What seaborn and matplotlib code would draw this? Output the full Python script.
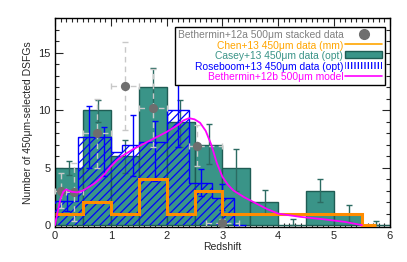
import numpy as np
import matplotlib
matplotlib.use("Agg")
import matplotlib.pyplot as plt
import seaborn as sns
from matplotlib.patches import Patch
from matplotlib.lines import Line2D
from matplotlib.ticker import MultipleLocator

# Casey+13 450um (opt) histogram
casey_edges = [0, 0.5, 1.0, 1.5, 2.0, 2.5, 3.0, 3.5, 4.0, 4.5, 5.0, 5.5, 6.0]
casey_counts = [5, 10, 6, 12, 9, 7, 5, 2, 0, 3, 1, 0]
casey_err_x = [0.25, 0.78, 1.25, 1.75, 2.24, 2.76, 3.25, 3.76, 4.26, 4.75, 5.26, 5.75]
casey_err_lo = [4.4, 9.0, 4.5, 10.3, 6.8, 5.3, 3.0, 0.95, 0.0, 2.0, 0.3, 0.0]
casey_err_hi = [5.6, 10.9, 7.4, 13.7, 10.85, 8.75, 6.6, 3.06, 0.5, 4.0, 1.73, 0.4]

# Roseboom+13 450um (opt) histogram
rose_edges = [0, 0.42, 1.0, 1.2, 1.5, 2.0, 2.41, 2.81, 3.21, 3.42]
rose_counts = [2.1, 7.7, 6.4, 7.0, 7.2, 10.0, 3.7, 2.4, 0]
rose_err_x = [0.21, 0.61, 0.87, 1.40, 1.80, 2.21, 2.61, 3.0]
rose_err_lo = [1.2, 5.0, 4.25, 4.3, 3.8, 6.8, 2.5, 1.3]
rose_err_hi = [2.8, 10.35, 8.5, 9.57, 9.05, 12.9, 4.9, 3.55]

# Chen+13 450um (mm) histogram
chen_edges = [0, 0.5, 1.0, 1.5, 2.0, 2.5, 3.0, 3.5, 4.0, 4.5, 5.0, 5.5, 5.75]
chen_counts = [1, 2, 1, 4, 1, 3, 1, 1, 1, 1, 1, 0]

# Bethermin+12a 500um stacked data
bet_z = [0.1, 0.35, 0.75, 1.25, 1.75, 2.55, 3.0]
bet_n = [3.0, 2.9, 8.0, 12.1, 10.2, 6.9, 0.2]
bet_zerr_lo = [0.1, 0.15, 0.25, 0.25, 0.25, 0.15, 0.3]
bet_zerr_hi = [0.1, 0.15, 0.25, 0.25, 0.25, 0.45, 0.3]
bet_nerr = [1.5, 2.5, 3.0, 3.8, 3.4, 1.8, 0.3]

# Bethermin+12b 500um model
model_z = [0, 0.05, 0.1, 0.15, 0.2, 0.3, 0.4, 0.5, 0.6, 0.7, 0.8, 0.9, 1.0, 1.1,
           1.2, 1.4, 1.6, 1.8, 2.0, 2.2, 2.3, 2.4, 2.5, 2.6, 2.7, 2.8, 2.9, 3.0,
           3.1, 3.2, 3.4, 3.6, 3.8, 4.0, 4.4, 4.8, 5.2, 5.5]
model_n = [0, 1.2, 2.3, 2.9, 3.1, 2.9, 2.85, 3.0, 3.3, 3.6, 4.0, 4.5, 5.1, 5.6,
           6.0, 6.6, 7.1, 7.6, 8.1, 8.7, 9.1, 9.3, 9.2, 8.9, 8.2, 7.0, 5.4, 4.2,
           3.5, 3.0, 2.4, 1.9, 1.4, 1.0, 0.72, 0.52, 0.28, 0.0]

teal = "#3a9488"
teal_dark = "#1f5c54"

sns.set_style("ticks")
plt.rcParams["font.family"] = ["Liberation Sans", "DejaVu Sans"]
plt.rcParams["hatch.linewidth"] = 0.9

fig = plt.figure(figsize=(4.07, 2.62), dpi=100)
ax = fig.add_axes([0.135, 0.134, 0.823, 0.797])

# Casey bars
casey_mid = [(a + b) / 2 for a, b in zip(casey_edges[:-1], casey_edges[1:])]
sns.histplot(x=casey_mid, weights=casey_counts, bins=casey_edges, ax=ax,
             color=teal, edgecolor=teal_dark, linewidth=1.0, alpha=1.0, zorder=1)
ax.errorbar(casey_err_x, [(a + b) / 2 for a, b in zip(casey_err_lo, casey_err_hi)],
            yerr=[(b - a) / 2 for a, b in zip(casey_err_lo, casey_err_hi)],
            fmt="none", ecolor="#2c6b62", elinewidth=1.0, capsize=2, zorder=2)

# Roseboom hatched histogram with step outline
rose_w = [b - a for a, b in zip(rose_edges[:-1], rose_edges[1:])]
ax.bar(rose_edges[:-1], rose_counts, width=rose_w, align="edge", fill=False,
       edgecolor="blue", hatch="////", linewidth=0, zorder=3)
ax.stairs(rose_counts, rose_edges, color="blue", linewidth=1.0, baseline=None, zorder=3)
ax.errorbar(rose_err_x, [(a + b) / 2 for a, b in zip(rose_err_lo, rose_err_hi)],
            yerr=[(b - a) / 2 for a, b in zip(rose_err_lo, rose_err_hi)],
            fmt="none", ecolor="blue", elinewidth=1.0, capsize=2, zorder=4)

# Chen step
ax.stairs(chen_counts, chen_edges, color="#ff8c00", linewidth=2.2, baseline=None, zorder=5)

# Bethermin stacked points
eb = ax.errorbar(bet_z, bet_n, xerr=[bet_zerr_lo, bet_zerr_hi], yerr=bet_nerr,
                 fmt="none", ecolor="#c8c8c8", elinewidth=1.0, capsize=2, zorder=6)
for c in eb[2]:
    c.set_linestyle((0, (4, 3)))
ax.scatter(bet_z, bet_n, s=44, color="#6e6e6e", zorder=7, linewidths=0)

# Bethermin model
sns.lineplot(x=model_z, y=model_n, ax=ax, color="magenta", linewidth=1.3, zorder=8)

ax.set_xlim(0, 6)
ax.set_ylim(-0.15, 18)
ax.xaxis.set_major_locator(MultipleLocator(1))
ax.xaxis.set_minor_locator(MultipleLocator(0.1))
ax.yaxis.set_major_locator(MultipleLocator(5))
ax.yaxis.set_minor_locator(MultipleLocator(1))
ax.tick_params(which="both", direction="in", top=True, right=True, labelsize=8, pad=3)
ax.tick_params(which="major", length=6, width=0.8)
ax.tick_params(which="minor", length=3, width=0.8)
for s in ax.spines.values():
    s.set_linewidth(1.0)
    s.set_color("black")
ax.set_xlabel("Redshift", fontsize=7.5, labelpad=1)
ax.set_ylabel("Number of 450μm-selected DSFGs", fontsize=7.5, labelpad=4)

handles = [
    Line2D([], [], marker="o", color="#6e6e6e", linestyle="none", markersize=7),
    Line2D([], [], color="orange", linewidth=1.2),
    Patch(facecolor=teal, edgecolor=teal_dark),
    Patch(facecolor="white", edgecolor="blue", hatch="|||||", linewidth=0),
    Line2D([], [], color="magenta", linewidth=1.2),
]
labels = ["Bethermin+12a 500μm stacked data", "Chen+13 450μm data (mm)",
          "Casey+13 450μm data (opt)", "Roseboom+13 450μm data (opt)",
          "Bethermin+12b 500μm model"]
leg = ax.legend(handles, labels, loc="upper right", bbox_to_anchor=(0.985, 0.955),
                markerfirst=False, fontsize=7.4, frameon=True, fancybox=False,
                edgecolor="black", framealpha=1, borderpad=0.25, labelspacing=0.05,
                handlelength=3.6, handletextpad=0.2, borderaxespad=0,
                labelcolor=["#808080", "orange", teal, "blue", "magenta"])
leg.get_frame().set_linewidth(1.0)
leg._legend_box.align = "right"
for vp in leg._legend_handle_box.get_children():
    for hp in vp.get_children():
        hp.align = "right"

fig.savefig("out.png", dpi=100)
